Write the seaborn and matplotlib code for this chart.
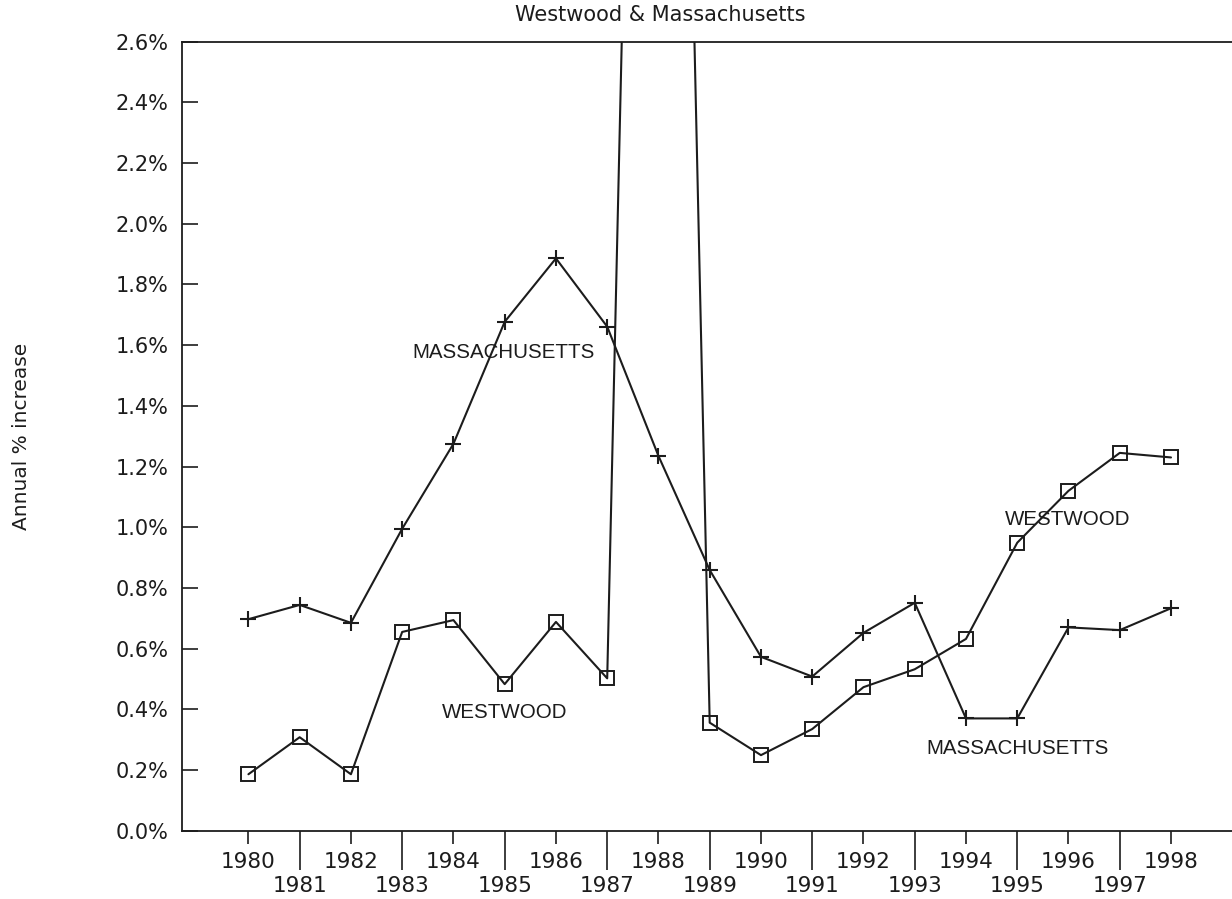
import matplotlib
matplotlib.use("Agg")
import matplotlib.pyplot as plt
import seaborn as sns
import pandas as pd
from matplotlib.ticker import FixedLocator, FuncFormatter

# ---- data ----
years = list(range(1980, 1999))
westwood = [0.186, 0.308, 0.186, 0.655, 0.694, 0.483, 0.688, 0.502, 7.9,
            0.356, 0.249, 0.335, 0.473, 0.532, 0.632, 0.949, 1.120, 1.245, 1.230]
massachusetts = [0.697, 0.744, 0.685, 0.995, 1.275, 1.677, 1.886, 1.661, 1.235,
                 0.859, 0.573, 0.508, 0.652, 0.751, 0.370, 0.370, 0.670, 0.661, 0.733]
y_ticks = [0.0, 0.2, 0.4, 0.6, 0.8, 1.0, 1.2, 1.4, 1.6, 1.8, 2.0, 2.2, 2.4, 2.6]
even_years = [y for y in years if y % 2 == 0]
odd_years = [y for y in years if y % 2 == 1]
title = "Westwood & Massachusetts"
y_label = "Annual % increase"
label_text = ["MASSACHUSETTS", "WESTWOOD", "WESTWOOD", "MASSACHUSETTS"]
label_x = [1984.97, 1984.99, 1995.99, 1995.0]
label_y = [1.577, 0.388, 1.024, 0.272]

df = pd.DataFrame({"year": years, "Westwood": westwood, "Massachusetts": massachusetts})

sns.set_style("white")
plt.rcParams["font.family"] = ["DejaVu Sans"]

ink = "#1c1c1c"
W, H = 1232, 899
fig = plt.figure(figsize=(W / 100, H / 100), dpi=100)
left_px, right_px, top_px, bottom_px = 182.3, 1232, 41.7, 830.7
ax = fig.add_axes([left_px / W, 1 - bottom_px / H, (right_px - left_px) / W, (bottom_px - top_px) / H])

sns.lineplot(data=df, x="year", y="Massachusetts", ax=ax, color=ink, linewidth=1.5,
             marker="+", markersize=11, markeredgewidth=1.5, markeredgecolor=ink,
             estimator=None)
sns.lineplot(data=df, x="year", y="Westwood", ax=ax, color=ink, linewidth=1.5,
             marker="s", markersize=9.5, markerfacecolor="none", markeredgecolor=ink,
             markeredgewidth=1.4, estimator=None)

ax.set_xlim(1978.71, 1999.19)
ax.set_ylim(0, 2.6)

ax.xaxis.set_major_locator(FixedLocator(even_years))
ax.xaxis.set_minor_locator(FixedLocator(odd_years))
yr_fmt = FuncFormatter(lambda v, p: f"{int(round(v))}")
ax.xaxis.set_major_formatter(yr_fmt)
ax.xaxis.set_minor_formatter(yr_fmt)
ax.yaxis.set_major_locator(FixedLocator(y_ticks))
ax.yaxis.set_major_formatter(FuncFormatter(lambda v, p: f"{v:.1f}%"))

ax.tick_params(axis="x", which="major", direction="out", length=9.1, width=1.2,
               pad=6.3, labelsize=15.5, colors=ink, bottom=True)
ax.tick_params(axis="x", which="minor", direction="out", length=27.9, width=1.2,
               pad=4.9, labelsize=15.5, colors=ink, bottom=True)
ax.tick_params(axis="y", which="major", direction="in", length=11.3, width=1.2,
               pad=10, labelsize=15, colors=ink, left=True)

for side in ["left", "bottom", "top"]:
    ax.spines[side].set_linewidth(1.3)
    ax.spines[side].set_color(ink)
ax.spines["right"].set_visible(False)

ax.set_xlabel("")
ax.set_ylabel(y_label, fontsize=14.5, color=ink, va="center")
ax.yaxis.set_label_coords((22 - left_px) / (right_px - left_px), 0.5)

for s, x, y in zip(label_text, label_x, label_y):
    ax.text(x, y, s, ha="center", va="center", fontsize=14.8, color=ink,
            family=["Liberation Sans", "DejaVu Sans"])

fig.text(660 / W, 1 - 15 / H, title, ha="center", va="center", fontsize=15, color=ink)

fig.savefig("out.png", dpi=100)
